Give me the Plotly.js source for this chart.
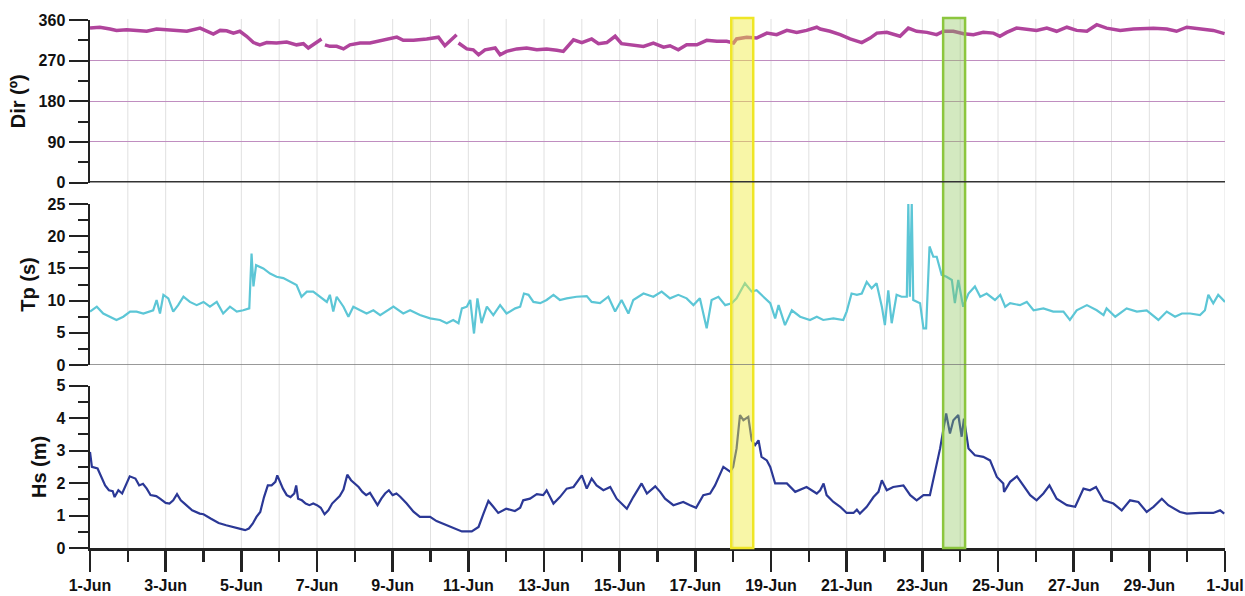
<!DOCTYPE html>
<html>
<head>
<meta charset="utf-8">
<script src="https://cdn.plot.ly/plotly-3.0.1.min.js"></script>
<style>html,body{margin:0;padding:0;background:#fff}#chart{width:1245px;height:596px}</style>
</head>
<body>
<div id="chart"></div>
<script>
// Days elapsed since 1-Jun (fractional) and readings
const startDate = '2019-06-01';
const dirDays = [0,0.26,0.53,0.7,0.97,1.23,1.5,1.76,2.03,2.29,2.56,2.91,3.08,3.26,3.44,3.61,3.79,3.96,4.14,4.32,4.49,4.67,4.93,5.2,5.46,5.64,5.77,5.95,6.12,6.16,6.21,6.34,6.52,6.7,6.87,7.14,7.4,7.58,7.84,8.11,8.28,8.55,8.9,9.21,9.38,9.56,9.69,9.715,9.74,9.96,10.13,10.27,10.44,10.71,10.84,11.01,11.28,11.54,11.81,12.07,12.34,12.51,12.78,13.0,13.26,13.44,13.66,13.88,14.05,14.36,14.63,14.89,15.16,15.33,15.55,15.77,16.04,16.3,16.57,16.83,17.01,17.09,17.36,17.62,17.89,18.15,18.42,18.68,18.94,19.21,19.3,19.56,19.83,20.09,20.4,20.62,20.8,21.06,21.41,21.63,21.85,22.12,22.38,22.56,22.82,23.09,23.35,23.61,23.88,24.05,24.23,24.49,24.76,25.02,25.29,25.55,25.82,26.08,26.35,26.61,26.87,27.23,27.58,28.11,28.46,28.72,28.99,29.34,29.69,29.99];
const dirValues = [342,344,340,337,338.6,337,335,340,338.6,337,335,342,335,329,337,336,331,335,324,310,305,310,309,311,305,307.5,298,309,318,null,305,301.6,301.6,296,305,309,309,312.7,318,322,315,315,318,322,303,316,327.5,null,309,296,294,283,294,298,283,290.5,296,298,294,296,293,290.5,316,310,318,307.5,310,324,307.5,305,301.6,309,300,303,294,305,305,315,312.7,312.7,309,318,322,320,331,327.5,337,332.6,337,344,340,335,327.5,318,310,320,331,332.6,324,342,335,332.6,327.5,335,335,329.7,327.5,332.6,331,324,332.6,342,340,337,342,335,344,337,335,349.6,342,337,340,342,340,335,344,340,337,329.7];

const tpDays = [0,0.18,0.35,0.53,0.7,0.88,1.06,1.23,1.41,1.67,1.76,1.85,1.94,2.07,2.2,2.33,2.47,2.64,2.82,3.0,3.17,3.35,3.52,3.7,3.88,4.05,4.21,4.27,4.32,4.39,4.58,4.76,4.93,5.11,5.29,5.46,5.59,5.73,5.9,6.08,6.26,6.34,6.43,6.52,6.7,6.83,6.96,7.14,7.31,7.49,7.67,8.02,8.28,8.46,8.72,8.99,9.25,9.43,9.6,9.74,9.83,9.96,10.05,10.15,10.24,10.35,10.49,10.66,10.84,11.01,11.24,11.37,11.47,11.59,11.72,11.9,12.07,12.25,12.42,12.6,12.86,13.13,13.26,13.48,13.7,13.88,14.05,14.23,14.36,14.63,14.89,15.11,15.33,15.55,15.77,15.95,16.12,16.3,16.43,16.61,16.79,16.96,17.09,17.31,17.49,17.62,17.8,17.98,18.11,18.2,18.37,18.55,18.77,19.03,19.21,19.38,19.65,19.91,20.0,20.13,20.27,20.4,20.53,20.66,20.79,20.93,21.01,21.1,21.19,21.32,21.45,21.59,21.63,21.67,21.72,21.76,21.94,22.03,22.1,22.19,22.29,22.38,22.51,22.64,22.78,22.86,22.95,23.08,23.22,23.39,23.53,23.7,23.92,24.06,24.19,24.32,24.58,24.76,24.94,25.2,25.46,25.73,25.9,26.08,26.35,26.61,26.79,26.87,27.1,27.4,27.67,27.93,28.24,28.46,28.68,28.86,29.08,29.34,29.47,29.56,29.69,29.82,30.0];
const tpValues = [8.3,9.06,8.0,7.5,7.0,7.5,8.3,8.3,8.0,8.5,10.1,8.0,10.9,10.35,8.3,9.3,10.6,9.8,9.3,9.8,9.06,9.8,8.0,9.06,8.3,8.5,8.8,17.3,12.2,15.5,15.0,14.2,13.7,13.5,12.9,12.4,10.6,11.4,11.4,10.6,9.8,10.9,8.3,10.6,9.06,7.5,9.06,8.5,8.0,8.5,7.76,9.06,8.0,8.5,7.76,7.25,7.0,6.5,7.0,6.5,8.8,9.06,10.1,4.9,10.35,6.5,9.06,7.76,9.3,8.0,8.8,9.06,11.1,10.9,9.8,9.6,10.1,10.9,10.1,10.35,10.6,10.7,9.8,9.6,10.6,8.3,10.1,8.0,10.1,11.1,10.6,11.4,10.35,10.9,10.35,9.3,10.35,5.7,10.1,10.6,9.3,9.6,10.35,12.7,11.4,11.6,10.6,9.6,7.25,9.3,6.2,8.5,7.5,7.0,7.5,7.0,7.25,7.0,8.3,11.1,10.9,11.1,12.9,11.9,12.7,9.06,6.2,11.6,6.5,10.9,10.6,10.6,25,10.6,25,10.1,9.6,5.7,5.7,18.4,16.8,16.8,14.0,13.7,13.2,9.6,13.2,9.06,11.1,12.2,10.6,11.1,10.1,10.9,9.06,9.6,9.3,9.8,8.5,8.8,8.3,8.3,7.0,8.5,9.3,8.5,7.76,8.8,7.5,8.8,8.3,8.5,7.0,8.3,7.5,8.0,8.0,7.76,8.5,10.9,9.6,10.9,9.8];

const hsDays = [0,0.05,0.2,0.3,0.4,0.5,0.6,0.65,0.75,0.85,1.0,1.05,1.2,1.3,1.4,1.5,1.6,1.75,1.85,2.0,2.1,2.2,2.3,2.4,2.5,2.7,2.9,3.0,3.2,3.4,3.6,3.8,4.0,4.1,4.2,4.3,4.4,4.5,4.6,4.7,4.8,4.9,4.95,5.1,5.2,5.3,5.4,5.45,5.5,5.6,5.7,5.8,5.9,6.0,6.1,6.2,6.3,6.4,6.5,6.6,6.7,6.8,6.9,7.0,7.1,7.2,7.3,7.4,7.5,7.6,7.7,7.8,7.9,8.0,8.1,8.2,8.37,8.55,8.72,8.99,9.16,9.43,9.6,9.83,10.09,10.27,10.4,10.53,10.66,10.79,11.0,11.23,11.37,11.45,11.63,11.81,11.98,12.07,12.25,12.42,12.6,12.78,13.0,13.13,13.26,13.39,13.57,13.75,13.92,14.05,14.19,14.36,14.58,14.72,14.94,15.07,15.2,15.42,15.68,15.86,16.02,16.21,16.39,16.52,16.74,16.92,17.0,17.09,17.18,17.27,17.4,17.49,17.58,17.67,17.75,17.89,17.98,18.11,18.42,18.64,18.94,19.21,19.3,19.39,19.47,19.65,19.83,20.0,20.18,20.27,20.35,20.53,20.71,20.84,20.93,21.06,21.23,21.5,21.68,21.85,22.03,22.2,22.34,22.47,22.63,22.73,22.82,22.95,23.04,23.1,23.22,23.39,23.61,23.79,23.97,24.14,24.16,24.32,24.5,24.67,24.85,25.02,25.2,25.36,25.55,25.82,26.04,26.26,26.43,26.59,26.79,27.05,27.27,27.49,27.71,27.93,28.11,28.33,28.5,28.81,28.99,29.34,29.69,29.87,29.98];
const hsValues = [2.96,2.5,2.45,2.19,1.93,1.78,1.75,1.57,1.78,1.68,2.04,2.21,2.14,1.93,1.98,1.83,1.63,1.6,1.52,1.39,1.37,1.47,1.66,1.47,1.37,1.16,1.06,1.04,0.9,0.77,0.7,0.63,0.58,0.55,0.6,0.75,0.96,1.11,1.57,1.93,1.93,2.04,2.24,1.83,1.63,1.57,1.68,1.93,1.52,1.47,1.37,1.32,1.37,1.32,1.24,1.04,1.16,1.37,1.47,1.6,1.8,2.26,2.09,1.99,1.88,1.73,1.63,1.7,1.52,1.32,1.52,1.68,1.78,1.63,1.68,1.58,1.37,1.12,0.96,0.96,0.83,0.7,0.63,0.51,0.51,0.65,1.06,1.45,1.27,1.08,1.21,1.14,1.24,1.47,1.52,1.66,1.63,1.78,1.37,1.57,1.83,1.88,2.24,1.83,2.14,1.93,1.78,1.88,1.52,1.37,1.21,1.57,1.99,1.68,1.9,1.73,1.52,1.32,1.42,1.32,1.24,1.63,1.68,1.93,2.5,2.35,2.5,3.07,4.1,3.94,4.04,3.32,3.17,3.32,2.81,2.7,2.5,1.99,1.99,1.73,1.88,1.68,1.78,1.99,1.63,1.42,1.27,1.08,1.08,1.18,1.06,1.27,1.57,1.73,2.09,1.78,1.88,1.93,1.63,1.47,1.63,1.63,2.4,3.07,4.15,3.53,3.94,4.1,3.43,3.99,3.07,2.86,2.81,2.7,2.19,1.99,1.73,2.04,2.21,1.93,1.63,1.47,1.68,1.93,1.52,1.32,1.27,1.83,1.78,1.88,1.47,1.37,1.16,1.47,1.42,1.11,1.27,1.52,1.32,1.11,1.06,1.08,1.08,1.16,1.06];

// Highlighted windows (start day, end day)
const highlightStart = [16.95, 22.55];
const highlightEnd = [17.53, 23.13];
const highlightFill = ['rgba(240,235,60,0.45)', 'rgba(140,198,90,0.38)'];
const highlightLine = ['#efe626', '#8cc63e'];

const DAY = 86400000;
const NDAYS = 30;
const t0 = Date.parse(startDate + 'T00:00:00Z');
function toDate(d) {
  const dt = new Date(t0 + d * DAY);
  return dt.toISOString().slice(0, 19).replace('T', ' ');
}

const font = 'Arial, "Liberation Sans", sans-serif';
const tickFont = {family: font, size: 16, color: '#111', weight: 'bold'};
const titleFont = {family: font, size: 20, color: '#111', weight: 'bold'};

const traces = [
  {x: dirDays.map(toDate), y: dirValues, yaxis: 'y', type: 'scatter', mode: 'lines',
   line: {color: '#b0449c', width: 3.5}, connectgaps: false, hoverinfo: 'skip'},
  {x: tpDays.map(toDate), y: tpValues, yaxis: 'y2', type: 'scatter', mode: 'lines',
   line: {color: '#5cc6d6', width: 2.2}, hoverinfo: 'skip'},
  {x: hsDays.map(toDate), y: hsValues, yaxis: 'y3', type: 'scatter', mode: 'lines',
   line: {color: '#2b3896', width: 2.2}, hoverinfo: 'skip'}
];

function yax(domain, range, dtick, minorDtick, title, grid, standoff) {
  return {
    domain: domain, range: range, dtick: dtick, tick0: 0, anchor: 'x',
    ticks: 'outside', ticklen: 19, tickwidth: 2, tickcolor: '#222',
    showline: true, linecolor: '#222', linewidth: 2.5,
    showgrid: grid, gridcolor: '#c08ec0', gridwidth: 1,
    zeroline: false, tickfont: tickFont, automargin: false,
    minor: {dtick: minorDtick, ticks: 'outside', ticklen: 10, tickwidth: 2, tickcolor: '#222', showgrid: false},
    title: {text: title, font: titleFont, standoff: standoff},
    fixedrange: true
  };
}

const shapes = [];
// daily vertical grid lines running through all three panels
for (let d = 1; d <= NDAYS; d++) {
  shapes.push({type: 'line', xref: 'x', yref: 'paper', x0: toDate(d), x1: toDate(d), y0: 0, y1: 1.002,
    line: {color: '#e0e0e0', width: 1}, layer: 'below'});
}
for (let i = 0; i < highlightStart.length; i++) {
  shapes.push({type: 'rect', xref: 'x', yref: 'paper', x0: toDate(highlightStart[i]), x1: toDate(highlightEnd[i]),
    y0: 0, y1: 1.004, fillcolor: highlightFill[i], line: {color: highlightLine[i], width: 2.5}, layer: 'above'});
}
shapes.push({type: 'line', xref: 'paper', yref: 'y', x0: 0, x1: 1, y0: 0, y1: 0, line: {color: '#333', width: 3}});
shapes.push({type: 'line', xref: 'paper', yref: 'y2', x0: 0, x1: 1, y0: 0, y1: 0, line: {color: '#777', width: 1.5}});

const layout = {
  width: 1245, height: 596,
  margin: {l: 90, r: 20, t: 20, b: 48},
  paper_bgcolor: '#fff', plot_bgcolor: 'rgba(0,0,0,0)',
  showlegend: false,
  xaxis: {
    type: 'date', anchor: 'y3', range: [toDate(0), toDate(NDAYS)],
    tick0: toDate(0), dtick: 2 * DAY, tickformat: '%-d-%b',
    ticks: 'outside', ticklen: 21, tickwidth: 2.5, tickcolor: '#222',
    showline: true, linecolor: '#222', linewidth: 2.5,
    showgrid: false, zeroline: false,
    tickfont: tickFont, automargin: false,
    minor: {dtick: DAY, tick0: toDate(0), ticks: 'outside', ticklen: 11, tickwidth: 2.5, tickcolor: '#222',
            showgrid: false},
    fixedrange: true
  },
  yaxis: yax([0.6921, 1], [0, 360], 90, 45, 'Dir (º)', true, 8),
  yaxis2: yax([0.3464, 0.6517], [0, 25], 5, 2.5, 'Tp (s)', false, 7),
  yaxis3: yax([0, 0.3072], [0, 5], 1, 0.5, 'Hs (m)', false, 5),
  shapes: shapes
};

Plotly.newPlot('chart', traces, layout, {displayModeBar: false, staticPlot: true});
</script>
</body>
</html>
